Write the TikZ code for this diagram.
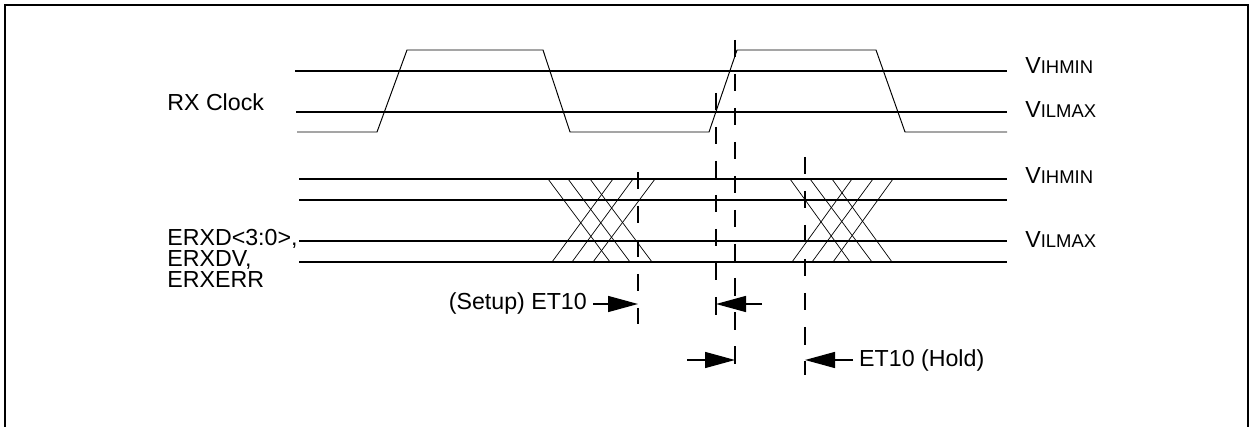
\documentclass[tikz,border=0pt]{standalone}
\usepackage{fontspec}
\setmainfont{Liberation Sans}
\usetikzlibrary{arrows.meta,positioning}
\tikzset{%
	>={Triangle[width=3.2mm,length=6mm]},
	% Specifications for style of lines and labels:
	frame/.style = {line width=1.1pt},
	level/.style = {line width=0.85pt},
	wave/.style = {line width=0.55pt},
	cross/.style = {line width=0.4pt},
	marker/.style = {line width=1.1pt, dash pattern=on 3.5mm off 3.3mm},
	timing/.style = {line width=0.8pt},
	sig/.style = {font=\fontsize{13.2}{16}\selectfont},
	siglabel/.style = {sig, inner sep=0pt, anchor=base west},
}
\newcommand{\levelname}[1]{V{\fontsize{10.5}{12}\selectfont #1}}

\begin{document}
\begin{tikzpicture}[x=0.2mm, y=-0.2mm]
\useasboundingbox (0,0) rectangle (1252,427);
\draw[frame] (5,427) -- (5,5) -- (1248,5) -- (1248,427);

%% Signal names and threshold levels
\node (rxclock) [siglabel] at (167,111) {RX Clock};
\node (erxd)    [siglabel] at (167,246) {ERXD<3:0>,};
\node (erxdv)   [siglabel] at (167,267) {ERXDV,};
\node (erxerr)  [siglabel] at (167,288) {ERXERR};

\node (vihclk)  [siglabel] at (1025,74)  {\levelname{IHMIN}};
\node (vilclk)  [siglabel] at (1025,118) {\levelname{ILMAX}};
\node (vihdata) [siglabel] at (1025,184) {\levelname{IHMIN}};
\node (vildata) [siglabel] at (1025,248) {\levelname{ILMAX}};

%% Threshold lines
\draw[level] (295,71)  -- (1007,71);
\draw[level] (296,112) -- (1007,112);
\draw[level] (299,179) -- (1007,179);
\draw[level] (299,200) -- (1007,200);
\draw[level] (299,241) -- (1007,241);
\draw[level] (299,262) -- (1007,262);

%% RX clock waveform
\draw[wave] (297,132) -- (377,132) -- (407,50) -- (543,50) -- (570,132)
	-- (709,132) -- (737,50) -- (876,50) -- (905,132) -- (1007,132);

%% Data transitions
\draw[cross] (548,179) -- (610,262);
\draw[cross] (568,179) -- (630,262);
\draw[cross] (590,179) -- (652,262);
\draw[cross] (552,262) -- (613,179);
\draw[cross] (572,262) -- (633,179);
\draw[cross] (593,262) -- (655,179);

\draw[cross] (790,179) -- (850,262);
\draw[cross] (810,179) -- (872,262);
\draw[cross] (832,179) -- (892,262);
\draw[cross] (792,262) -- (852,179);
\draw[cross] (812,262) -- (873,179);
\draw[cross] (833,262) -- (893,179);

%% Reference markers
\coordinate (setupTop)  at (638,172);
\coordinate (setupBot)  at (638,324);
\coordinate (edgeTopA)  at (716,93);
\coordinate (edgeBotA)  at (716,327);
\coordinate (edgeTopB)  at (735,40);
\coordinate (edgeBotB)  at (735,373);
\coordinate (holdTop)   at (805,157);
\coordinate (holdBot)   at (805,375);
\draw[marker] (setupTop) -- (setupBot);
\draw[marker] (edgeTopA) -- (edgeBotA);
\draw[marker] (edgeTopB) -- (edgeBotB);
\draw[marker] (holdTop) -- (holdBot);

%% Timing arrows
\node (setup) [sig, anchor=east] at (593,304) {(Setup) ET10};
\node (hold)  [sig, anchor=west] at (853,360) {ET10 (Hold)};
\coordinate (setupTip)  at (638,304);
\coordinate (edgeTailA) at (762,304);
\coordinate (edgeTipA)  at (716,304);
\coordinate (edgeTailB) at (687,360);
\coordinate (edgeTipB)  at (735,360);
\coordinate (holdTip)   at (805,360);
\draw[->, timing] (setup.east) -- (setupTip);
\draw[->, timing] (edgeTailA) -- (edgeTipA);
\draw[->, timing] (edgeTailB) -- (edgeTipB);
\draw[->, timing] (hold.west) -- (holdTip);
\end{tikzpicture}
\end{document}
